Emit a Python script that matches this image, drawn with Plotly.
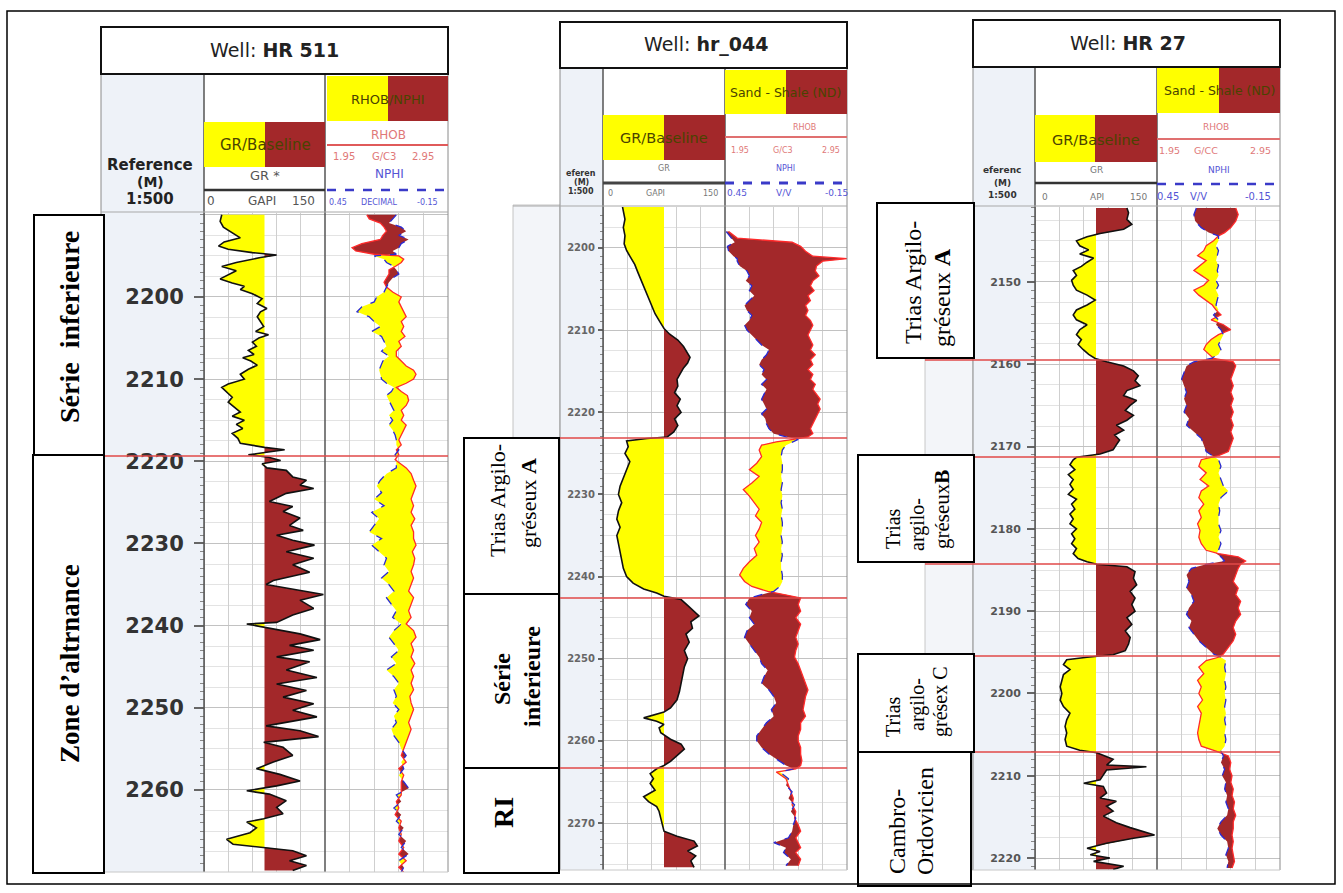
import plotly.graph_objects as go

# ---------------------------------------------------------------------------
# Log data (depth in m, GR in API, RHOB in g/cc, NPHI in v/v)
# ---------------------------------------------------------------------------
GR_BASELINE = 75.0
GR_SCALE = [0, 150]
RHOB_SCALE = [1.95, 2.95]
NPHI_SCALE = [0.45, -0.15]

# ---- Well HR 511 ----
HR511_GR_DEPTH = [
    2190.0, 2190.8, 2191.5, 2192.3, 2192.8, 2193.3, 2193.8, 2194.2, 2194.6, 2194.9,
    2195.2, 2195.8, 2196.3, 2196.8, 2197.3, 2197.8, 2198.3, 2198.7, 2199.1, 2199.6,
    2200.2, 2200.8, 2201.4, 2201.8, 2202.4, 2203.0, 2203.6, 2204.2, 2204.6, 2205.0,
    2205.5, 2206.0, 2206.5, 2207.0, 2207.4, 2207.8, 2208.3, 2208.8, 2209.4, 2210.0,
    2210.6, 2211.0, 2211.6, 2212.2, 2212.8, 2213.4, 2214.0, 2214.5, 2215.0, 2215.5,
    2216.0, 2216.6, 2217.2, 2217.8, 2218.3, 2218.6, 2218.9, 2219.2, 2219.5, 2219.9,
    2220.3, 2220.8, 2221.1, 2221.9, 2222.3, 2222.9, 2223.3, 2223.9, 2224.9, 2225.5,
    2226.1, 2226.9, 2227.8, 2228.4, 2229.0, 2229.6, 2230.2, 2231.0, 2231.8, 2232.6,
    2233.5, 2234.5, 2235.0, 2235.5, 2236.2, 2236.9, 2237.9, 2238.7, 2239.6, 2239.8,
    2240.4, 2241.0, 2241.7, 2242.4, 2243.0, 2243.8, 2244.4, 2245.4, 2246.3, 2247.1,
    2247.9, 2248.7, 2249.5, 2250.3, 2251.1, 2252.2, 2252.8, 2253.5, 2254.2, 2254.8,
    2255.8, 2256.6, 2257.4, 2258.1, 2258.9, 2259.5, 2260.1, 2260.5, 2261.3, 2262.1,
    2262.9, 2263.5, 2263.9, 2264.6, 2265.2, 2266.0, 2266.6, 2267.0, 2267.4, 2268.0,
    2268.6, 2269.2, 2269.8,
]
HR511_GR = [
    22, 20, 24, 38, 45, 25, 18, 30, 60, 90,
    70, 40, 22, 40, 30, 20, 35, 50, 45, 60,
    72, 66, 78, 70, 66, 70, 74, 64, 80, 68,
    60, 65, 55, 62, 48, 58, 66, 55, 45, 50,
    30, 22, 28, 35, 30, 38, 45, 35, 50, 40,
    48, 35, 42, 45, 75, 100, 78, 55, 80, 95,
    72, 78, 102, 110, 127, 119, 136, 102, 81, 110,
    98, 119, 106, 123, 90, 110, 137, 102, 136, 110,
    131, 86, 77, 106, 148, 119, 136, 110, 90, 53,
    86, 119, 144, 106, 136, 90, 131, 102, 140, 90,
    127, 98, 136, 110, 140, 77, 119, 142, 74, 98,
    110, 86, 65, 94, 119, 90, 53, 81, 102, 90,
    98, 74, 53, 65, 57, 28, 36, 77, 110, 127,
    106, 127, 110,
]
HR511_ND_DEPTH = [
    2190.0, 2190.5, 2191.0, 2191.5, 2192.0, 2192.5, 2193.0, 2193.5, 2194.0, 2194.4,
    2194.8, 2195.0, 2195.4, 2195.8, 2196.2, 2196.7, 2197.2, 2197.7, 2198.2, 2198.8,
    2199.4, 2200.0, 2200.6, 2201.2, 2201.8, 2202.4, 2203.0, 2203.6, 2204.2, 2204.8,
    2205.4, 2206.0, 2206.6, 2207.2, 2207.8, 2208.4, 2208.9, 2209.4, 2210.0, 2210.5,
    2211.0, 2211.5, 2212.0, 2212.6, 2213.2, 2213.8, 2214.4, 2215.0, 2215.6, 2216.2,
    2216.8, 2217.4, 2218.0, 2218.6, 2219.2, 2219.8, 2220.8, 2221.5, 2222.3, 2223.0,
    2223.8, 2224.6, 2225.4, 2226.2, 2227.0, 2227.8, 2228.6, 2229.4, 2230.2, 2231.0,
    2231.8, 2232.6, 2233.4, 2234.2, 2235.0, 2235.8, 2236.6, 2237.4, 2238.2, 2239.0,
    2239.8, 2240.6, 2241.4, 2242.2, 2243.0, 2243.8, 2244.6, 2245.4, 2246.2, 2247.0,
    2247.8, 2248.6, 2249.4, 2250.2, 2251.0, 2251.8, 2252.6, 2253.4, 2254.2, 2255.0,
    2255.8, 2256.6, 2257.4, 2258.2, 2259.0, 2259.8, 2260.6, 2261.4, 2262.2, 2263.0,
    2263.8, 2264.6, 2265.4, 2266.2, 2267.0, 2267.8, 2268.6, 2269.4, 2270.0,
]
HR511_RHOB = [
    2.29, 2.31, 2.40, 2.43, 2.45, 2.42, 2.40, 2.25, 2.17, 2.20,
    2.35, 2.55, 2.59, 2.57, 2.53, 2.47, 2.47, 2.45, 2.43, 2.45,
    2.50, 2.57, 2.55, 2.57, 2.59, 2.61, 2.57, 2.59, 2.57, 2.60,
    2.55, 2.57, 2.53, 2.53, 2.57, 2.61, 2.67, 2.69, 2.67, 2.61,
    2.53, 2.57, 2.62, 2.63, 2.61, 2.57, 2.59, 2.57, 2.61, 2.59,
    2.57, 2.55, 2.57, 2.53, 2.55, 2.52, 2.61, 2.65, 2.67, 2.69,
    2.67, 2.65, 2.67, 2.65, 2.68, 2.65, 2.67, 2.67, 2.69, 2.66,
    2.68, 2.67, 2.65, 2.67, 2.65, 2.63, 2.67, 2.65, 2.63, 2.65,
    2.61, 2.67, 2.69, 2.65, 2.67, 2.65, 2.68, 2.65, 2.67, 2.65,
    2.67, 2.64, 2.65, 2.67, 2.65, 2.63, 2.65, 2.63, 2.61, 2.59,
    2.57, 2.61, 2.55, 2.59, 2.57, 2.57, 2.57, 2.53, 2.55, 2.52,
    2.57, 2.55, 2.57, 2.55, 2.59, 2.55, 2.61, 2.55, 2.59,
]
HR511_NPHI = [
    0.102, 0.120, 0.138, 0.078, 0.054, 0.090, 0.042, 0.078, 0.090, 0.120,
    0.102, 0.210, 0.162, 0.150, 0.120, 0.102, 0.090, 0.120, 0.138, 0.150,
    0.162, 0.198, 0.210, 0.270, 0.294, 0.234, 0.210, 0.180, 0.222, 0.174,
    0.162, 0.150, 0.174, 0.138, 0.168, 0.180, 0.186, 0.180, 0.174, 0.150,
    0.114, 0.126, 0.150, 0.138, 0.126, 0.114, 0.138, 0.120, 0.138, 0.120,
    0.108, 0.102, 0.102, 0.090, 0.108, 0.102, 0.102, 0.150, 0.180, 0.198,
    0.174, 0.210, 0.162, 0.222, 0.186, 0.210, 0.234, 0.174, 0.222, 0.186,
    0.150, 0.162, 0.138, 0.174, 0.138, 0.114, 0.150, 0.126, 0.102, 0.120,
    0.078, 0.114, 0.138, 0.114, 0.090, 0.126, 0.102, 0.150, 0.114, 0.090,
    0.114, 0.102, 0.120, 0.090, 0.114, 0.102, 0.126, 0.114, 0.090, 0.078,
    0.054, 0.078, 0.066, 0.090, 0.066, 0.042, 0.102, 0.078, 0.114, 0.078,
    0.102, 0.066, 0.090, 0.054, 0.078, 0.042, 0.090, 0.066, 0.078,
]
HR511_TOPS = [2219.35]
HR511_DEPTH_LABELS = [2200, 2210, 2220, 2230, 2240, 2250, 2260]

# ---- Well hr_044 ----
HR044_GR_DEPTH = [
    2195.0, 2195.6, 2196.5, 2197.5, 2198.5, 2199.5, 2200.3, 2201.0, 2202.0, 2203.0,
    2204.0, 2205.0, 2206.0, 2207.0, 2208.0, 2209.0, 2209.8, 2210.5, 2211.2, 2212.0,
    2212.6, 2213.3, 2214.0, 2214.6, 2215.3, 2216.0, 2216.8, 2217.6, 2218.4, 2219.2,
    2220.0, 2220.8, 2221.6, 2222.4, 2223.0, 2223.2, 2223.5, 2224.2, 2225.0, 2226.0,
    2227.0, 2228.0, 2229.0, 2230.0, 2231.0, 2232.0, 2233.0, 2234.0, 2235.0, 2236.0,
    2237.0, 2238.0, 2239.0, 2240.0, 2240.8, 2241.5, 2242.0, 2242.4, 2242.8, 2243.5,
    2244.2, 2244.8, 2245.5, 2246.3, 2247.0, 2248.0, 2249.0, 2250.0, 2251.0, 2252.0,
    2253.0, 2254.0, 2255.0, 2256.0, 2256.5, 2257.0, 2257.2, 2257.6, 2258.0, 2258.4,
    2259.0, 2259.8, 2260.4, 2261.0, 2261.8, 2262.5, 2263.0, 2263.4, 2264.0, 2264.6,
    2265.2, 2266.0, 2266.8, 2267.4, 2268.0, 2268.6, 2269.4, 2270.2, 2271.0, 2271.6,
    2272.2, 2272.8, 2273.4, 2274.0, 2274.6, 2275.4,
]
HR044_GR = [
    24, 25, 27, 25, 27, 26, 29, 33, 39, 43,
    47, 51, 55, 59, 64, 70, 75, 82, 92, 99,
    103, 107, 104, 99, 95, 91, 92, 88, 95, 91,
    96, 88, 92, 87, 79, 54, 29, 31, 27, 33,
    29, 25, 21, 19, 23, 19, 17, 21, 17, 19,
    21, 23, 25, 29, 37, 50, 66, 75, 96, 104,
    112, 118, 108, 110, 102, 106, 100, 104, 100, 98,
    96, 94, 91, 83, 75, 58, 50, 66, 75, 69,
    71, 83, 96, 100, 91, 83, 75, 66, 58, 62,
    58, 64, 50, 56, 66, 69, 71, 73, 75, 91,
    112, 116, 104, 114, 108, 112,
]
HR044_ND_DEPTH = [
    2198.0, 2198.8, 2199.3, 2199.8, 2200.4, 2201.0, 2201.3, 2201.6, 2202.2, 2202.8,
    2203.4, 2204.0, 2204.6, 2205.2, 2205.8, 2206.4, 2207.0, 2207.6, 2208.2, 2208.8,
    2209.4, 2210.0, 2210.6, 2211.2, 2211.8, 2212.4, 2213.0, 2213.6, 2214.2, 2214.8,
    2215.4, 2216.0, 2216.6, 2217.2, 2217.8, 2218.4, 2219.0, 2219.6, 2220.2, 2220.8,
    2221.4, 2222.0, 2222.6, 2223.0, 2223.3, 2223.6, 2224.0, 2224.6, 2225.4, 2226.2,
    2227.0, 2227.8, 2228.6, 2229.4, 2230.2, 2231.0, 2231.8, 2232.6, 2233.4, 2234.2,
    2235.0, 2235.8, 2236.6, 2237.4, 2238.2, 2239.0, 2239.8, 2240.6, 2241.2, 2241.8,
    2242.2, 2242.6, 2243.4, 2244.2, 2245.0, 2245.8, 2246.6, 2247.4, 2248.2, 2249.0,
    2249.8, 2250.6, 2251.4, 2252.2, 2253.0, 2253.8, 2254.6, 2255.4, 2256.2, 2257.0,
    2257.8, 2258.6, 2259.4, 2260.0, 2260.8, 2261.6, 2262.4, 2263.0, 2263.4, 2263.8,
    2264.6, 2265.4, 2266.2, 2267.0, 2267.8, 2268.6, 2269.4, 2270.2, 2271.0, 2271.8,
    2272.4, 2273.0, 2273.6, 2274.4, 2275.2,
]
HR044_RHOB = [
    1.98, 2.05, 2.50, 2.57, 2.61, 2.67, 2.95, 2.75, 2.70, 2.69,
    2.72, 2.67, 2.65, 2.68, 2.63, 2.65, 2.61, 2.63, 2.61, 2.65,
    2.67, 2.65, 2.63, 2.65, 2.67, 2.65, 2.69, 2.65, 2.67, 2.63,
    2.67, 2.65, 2.69, 2.67, 2.70, 2.73, 2.71, 2.73, 2.71, 2.69,
    2.67, 2.65, 2.67, 2.63, 2.51, 2.37, 2.25, 2.23, 2.25, 2.21,
    2.15, 2.23, 2.17, 2.10, 2.15, 2.19, 2.23, 2.20, 2.25, 2.23,
    2.20, 2.23, 2.19, 2.21, 2.15, 2.10, 2.07, 2.11, 2.17, 2.30,
    2.45, 2.57, 2.55, 2.57, 2.53, 2.57, 2.55, 2.53, 2.55, 2.53,
    2.52, 2.55, 2.57, 2.59, 2.61, 2.63, 2.61, 2.60, 2.59, 2.61,
    2.57, 2.57, 2.55, 2.55, 2.57, 2.57, 2.58, 2.57, 2.53, 2.37,
    2.45, 2.47, 2.49, 2.51, 2.50, 2.53, 2.52, 2.55, 2.57, 2.53,
    2.55, 2.57, 2.53, 2.57, 2.55,
]
HR044_NPHI = [
    0.444, 0.420, 0.402, 0.438, 0.432, 0.408, 0.390, 0.390, 0.378, 0.342,
    0.330, 0.348, 0.318, 0.330, 0.306, 0.330, 0.354, 0.342, 0.318, 0.330,
    0.354, 0.342, 0.318, 0.294, 0.270, 0.234, 0.246, 0.270, 0.282, 0.258,
    0.270, 0.246, 0.270, 0.246, 0.258, 0.270, 0.258, 0.246, 0.270, 0.252,
    0.246, 0.234, 0.210, 0.150, 0.090, 0.114, 0.150, 0.168, 0.174, 0.168,
    0.168, 0.174, 0.168, 0.174, 0.168, 0.174, 0.168, 0.174, 0.168, 0.168,
    0.174, 0.168, 0.174, 0.168, 0.174, 0.174, 0.168, 0.168, 0.180, 0.210,
    0.270, 0.330, 0.348, 0.318, 0.330, 0.306, 0.342, 0.354, 0.330, 0.306,
    0.282, 0.270, 0.240, 0.258, 0.270, 0.234, 0.210, 0.198, 0.222, 0.210,
    0.246, 0.270, 0.294, 0.294, 0.270, 0.234, 0.186, 0.150, 0.114, 0.180,
    0.138, 0.150, 0.120, 0.138, 0.108, 0.126, 0.102, 0.114, 0.120, 0.138,
    0.210, 0.150, 0.162, 0.126, 0.150,
]
HR044_TOPS = [2223.13, 2242.61, 2263.31]
HR044_DEPTH_LABELS = [2200, 2210, 2220, 2230, 2240, 2250, 2260, 2270]

# ---- Well HR 27 ----
HR27_GR_DEPTH = [
    2141.0, 2141.6, 2142.4, 2143.0, 2143.6, 2144.1, 2144.5, 2145.0, 2145.6, 2146.1,
    2146.6, 2147.1, 2147.6, 2148.1, 2148.6, 2149.2, 2149.8, 2150.4, 2151.0, 2151.6,
    2152.2, 2152.8, 2153.4, 2154.0, 2154.6, 2155.2, 2155.8, 2156.4, 2157.0, 2157.6,
    2158.2, 2158.8, 2159.3, 2159.7, 2160.2, 2160.8, 2161.4, 2162.0, 2162.6, 2163.2,
    2163.8, 2164.4, 2165.0, 2165.6, 2166.2, 2166.8, 2167.4, 2168.0, 2168.6, 2169.2,
    2169.8, 2170.4, 2170.9, 2171.3, 2171.6, 2172.2, 2172.8, 2173.4, 2174.0, 2174.6,
    2175.2, 2175.8, 2176.4, 2177.0, 2177.6, 2178.2, 2178.8, 2179.4, 2180.0, 2180.6,
    2181.2, 2181.8, 2182.4, 2183.0, 2183.6, 2184.0, 2184.3, 2184.6, 2185.2, 2186.0,
    2186.8, 2187.6, 2188.4, 2189.2, 2190.0, 2190.8, 2191.6, 2192.4, 2193.2, 2194.0,
    2194.8, 2195.3, 2195.6, 2195.9, 2196.5, 2197.1, 2197.7, 2198.4, 2199.2, 2200.0,
    2200.8, 2201.6, 2202.4, 2203.2, 2204.0, 2204.8, 2205.6, 2206.4, 2206.9, 2207.2,
    2208.0, 2208.7, 2208.9, 2209.3, 2210.5, 2210.9, 2211.3, 2212.1, 2212.7, 2213.1,
    2213.7, 2214.3, 2214.9, 2215.7, 2216.3, 2217.2, 2217.6, 2218.2, 2218.8, 2219.2,
    2219.6, 2220.0, 2220.4, 2221.0, 2221.4,
]
HR27_GR = [
    113, 115, 113, 119, 109, 80, 64, 51, 55, 66,
    55, 72, 64, 57, 47, 51, 45, 47, 51, 64,
    74, 64, 51, 47, 51, 64, 55, 51, 57, 53,
    59, 66, 74, 88, 109, 121, 127, 123, 129, 113,
    109, 125, 117, 111, 121, 113, 100, 109, 98, 104,
    100, 96, 80, 51, 47, 43, 49, 41, 47, 43,
    47, 41, 51, 45, 49, 43, 47, 43, 51, 45,
    49, 45, 51, 47, 53, 64, 76, 113, 123, 121,
    125, 117, 123, 119, 123, 113, 119, 111, 117, 115,
    111, 96, 64, 39, 35, 43, 35, 33, 31, 33,
    31, 35, 43, 39, 37, 39, 37, 39, 55, 76,
    96, 88, 137, 88, 80, 60, 84, 88, 80, 100,
    88, 96, 84, 100, 117, 147, 121, 88, 64, 80,
    68, 92, 72, 109, 96,
]
HR27_ND_DEPTH = [
    2141.0, 2141.8, 2142.6, 2143.4, 2144.0, 2144.4, 2145.0, 2145.6, 2146.2, 2146.8,
    2147.4, 2148.0, 2148.6, 2149.2, 2149.8, 2150.4, 2151.0, 2151.6, 2152.2, 2152.8,
    2153.4, 2154.0, 2154.6, 2155.2, 2155.8, 2156.4, 2157.0, 2157.6, 2158.2, 2158.8,
    2159.3, 2159.7, 2160.2, 2161.0, 2161.8, 2162.6, 2163.4, 2164.2, 2165.0, 2165.8,
    2166.6, 2167.4, 2168.2, 2169.0, 2169.8, 2170.6, 2171.1, 2171.6, 2172.4, 2173.2,
    2174.0, 2174.8, 2175.4, 2176.2, 2177.0, 2177.8, 2178.6, 2179.4, 2180.2, 2181.0,
    2181.8, 2182.6, 2183.0, 2183.4, 2183.9, 2184.3, 2184.8, 2185.6, 2186.4, 2187.2,
    2188.0, 2188.8, 2189.6, 2190.4, 2191.2, 2192.0, 2192.8, 2193.6, 2194.4, 2195.2,
    2195.6, 2196.0, 2196.8, 2197.6, 2198.4, 2199.2, 2200.0, 2200.8, 2201.6, 2202.4,
    2203.2, 2204.0, 2204.8, 2205.6, 2206.4, 2207.0, 2207.6, 2208.4, 2209.2, 2210.0,
    2210.8, 2211.6, 2212.4, 2213.2, 2214.0, 2214.8, 2215.6, 2216.4, 2217.2, 2218.0,
    2218.8, 2219.6, 2220.4, 2221.2,
]
HR27_RHOB = [
    2.59, 2.61, 2.59, 2.55, 2.50, 2.45, 2.41, 2.35, 2.33, 2.28,
    2.35, 2.30, 2.25, 2.31, 2.37, 2.33, 2.25, 2.29, 2.35, 2.40,
    2.43, 2.47, 2.39, 2.49, 2.55, 2.45, 2.39, 2.35, 2.33, 2.37,
    2.41, 2.57, 2.59, 2.57, 2.55, 2.57, 2.55, 2.57, 2.55, 2.57,
    2.55, 2.57, 2.55, 2.57, 2.55, 2.53, 2.45, 2.31, 2.29, 2.35,
    2.30, 2.37, 2.31, 2.29, 2.33, 2.29, 2.31, 2.28, 2.30, 2.29,
    2.31, 2.35, 2.45, 2.61, 2.67, 2.63, 2.61, 2.59, 2.57, 2.61,
    2.59, 2.63, 2.61, 2.63, 2.59, 2.57, 2.59, 2.57, 2.53, 2.49,
    2.45, 2.35, 2.29, 2.33, 2.28, 2.31, 2.29, 2.32, 2.28, 2.31,
    2.30, 2.29, 2.28, 2.29, 2.31, 2.43, 2.53, 2.55, 2.54, 2.56,
    2.55, 2.57, 2.56, 2.58, 2.57, 2.59, 2.57, 2.57, 2.56, 2.57,
    2.56, 2.57, 2.58, 2.56,
]
HR27_NPHI = [
    0.258, 0.270, 0.264, 0.234, 0.198, 0.150, 0.150, 0.162, 0.150, 0.156,
    0.162, 0.150, 0.156, 0.150, 0.162, 0.150, 0.162, 0.150, 0.156, 0.162,
    0.150, 0.174, 0.150, 0.162, 0.138, 0.126, 0.138, 0.150, 0.138, 0.150,
    0.186, 0.270, 0.306, 0.318, 0.330, 0.318, 0.306, 0.318, 0.306, 0.318,
    0.294, 0.306, 0.270, 0.234, 0.222, 0.210, 0.180, 0.150, 0.138, 0.150,
    0.138, 0.126, 0.102, 0.138, 0.150, 0.144, 0.150, 0.150, 0.138, 0.150,
    0.138, 0.150, 0.162, 0.138, 0.120, 0.210, 0.282, 0.306, 0.294, 0.306,
    0.282, 0.270, 0.294, 0.306, 0.282, 0.294, 0.270, 0.246, 0.210, 0.174,
    0.138, 0.114, 0.120, 0.114, 0.120, 0.114, 0.120, 0.114, 0.120, 0.114,
    0.120, 0.114, 0.120, 0.114, 0.120, 0.138, 0.126, 0.138, 0.120, 0.132,
    0.114, 0.120, 0.108, 0.114, 0.102, 0.108, 0.138, 0.156, 0.138, 0.108,
    0.102, 0.114, 0.102, 0.108,
]
HR27_TOPS = [2159.48, 2171.27, 2184.27, 2195.45, 2207.12]
HR27_DEPTH_LABELS = [2150, 2160, 2170, 2180, 2190, 2200, 2210, 2220]

# ---------------------------------------------------------------------------
# Page geometry helpers (pixel -> paper)
# ---------------------------------------------------------------------------
W, H = 1343, 893
YELLOW = "#ffff00"
BROWN = "#a3282a"
HEAD_TXT = "#4a4300"
RED_TXT = "#e07878"
BLUE_TXT = "#5555d5"


def px(x):
    return x / W


def py(y):
    return 1 - y / H


def aref(letter, n):
    return letter if n == 1 else f"{letter}{n}"


def akey(letter, n):
    return f"{letter}axis" if n == 1 else f"{letter}axis{n}"


fig = go.Figure()
layout_axes = {}
shapes = []
annotations = []


def add_rect(x0, y0, x1, y1, fill="rgba(0,0,0,0)", line=None, width=1.0, layer="above"):
    shapes.append(dict(type="rect", xref="paper", yref="paper",
                       x0=px(x0), x1=px(x1), y0=py(y1), y1=py(y0),
                       fillcolor=fill, layer=layer,
                       line=dict(color=line if line else "rgba(0,0,0,0)",
                                 width=width if line else 0)))


def add_line(x0, y0, x1, y1, color, width=1.0, dash="solid", layer="above"):
    shapes.append(dict(type="line", xref="paper", yref="paper",
                       x0=px(x0), x1=px(x1), y0=py(y0), y1=py(y1),
                       line=dict(color=color, width=width, dash=dash), layer=layer))


def add_text(x, y, s, size, color="#222", family="DejaVu Sans", angle=0,
             xanchor="center", yanchor="middle"):
    annotations.append(dict(xref="paper", yref="paper", x=px(x), y=py(y), text=s,
                            showarrow=False, textangle=angle,
                            xanchor=xanchor, yanchor=yanchor, borderpad=0,
                            font=dict(family=family, size=size, color=color)))


def with_crossings(depth, a, b):
    """Insert the depths where curves a and b cross so that fills close cleanly."""
    d_out, a_out, b_out = [depth[0]], [a[0]], [b[0]]
    for i in range(1, len(depth)):
        s0 = a[i - 1] - b[i - 1]
        s1 = a[i] - b[i]
        if s0 * s1 < 0:
            t = s0 / (s0 - s1)
            dc = depth[i - 1] + t * (depth[i] - depth[i - 1])
            xc = a[i - 1] + t * (a[i] - a[i - 1])
            d_out.append(dc)
            a_out.append(xc)
            b_out.append(xc)
        d_out.append(depth[i])
        a_out.append(a[i])
        b_out.append(b[i])
    return d_out, a_out, b_out


def add_band(depth, left, right, color, xa, ya):
    """Shade the interval where `left` lies to the left of `right`."""
    d, l, r = with_crossings(depth, left, right)
    upper = [max(p, q) for p, q in zip(l, r)]
    fig.add_trace(go.Scatter(x=l, y=d, xaxis=xa, yaxis=ya, mode="lines",
                             line=dict(width=0), hoverinfo="skip", showlegend=False))
    fig.add_trace(go.Scatter(x=upper, y=d, xaxis=xa, yaxis=ya, mode="lines",
                             line=dict(width=0), fill="tonextx", fillcolor=color,
                             hoverinfo="skip", showlegend=False))


def nphi_on_rhob_scale(nphi):
    span_n = NPHI_SCALE[0] - NPHI_SCALE[1]
    span_r = RHOB_SCALE[1] - RHOB_SCALE[0]
    return [RHOB_SCALE[0] + (NPHI_SCALE[0] - v) / span_n * span_r for v in nphi]


# ---------------------------------------------------------------------------
# Track layout of each well panel (pixels)
# ---------------------------------------------------------------------------
WELLS = [
    dict(name="HR 511", gr_depth=HR511_GR_DEPTH, gr=HR511_GR,
         nd_depth=HR511_ND_DEPTH, rhob=HR511_RHOB, nphi=HR511_NPHI,
         tops=HR511_TOPS, labels=HR511_DEPTH_LABELS, sand_when_rhob_left=False,
         x_depth=101, x_gr=204, x_nd=325, x_end=448, y_head=74, y_top=213, y_bot=872,
         depth_top=2189.78, depth_bot=2269.98, top_line_x0=104,
         tick_size=21, tick_color="#333", ticklen=10, minorlen=4, standoff=6),
    dict(name="hr_044", gr_depth=HR044_GR_DEPTH, gr=HR044_GR,
         nd_depth=HR044_ND_DEPTH, rhob=HR044_RHOB, nphi=HR044_NPHI,
         tops=HR044_TOPS, labels=HR044_DEPTH_LABELS, sand_when_rhob_left=True,
         x_depth=560, x_gr=603, x_nd=725, x_end=847, y_head=68, y_top=207, y_bot=870,
         depth_top=2195.01, depth_bot=2275.72, top_line_x0=513,
         tick_size=10, tick_color="#666", ticklen=5, minorlen=3, standoff=1),
    dict(name="HR 27", gr_depth=HR27_GR_DEPTH, gr=HR27_GR,
         nd_depth=HR27_ND_DEPTH, rhob=HR27_RHOB, nphi=HR27_NPHI,
         tops=HR27_TOPS, labels=HR27_DEPTH_LABELS, sand_when_rhob_left=True,
         x_depth=973, x_gr=1035, x_nd=1157, x_end=1280, y_head=67, y_top=207, y_bot=870,
         depth_top=2140.89, depth_bot=2221.45, top_line_x0=925,
         tick_size=11, tick_color="#555", ticklen=8, minorlen=4, standoff=4),
]

GRID_V = "#cfcfcf"
GRID_MAJOR = "#c2c2c2"
GRID_MINOR = "#e3e3e3"

# Background panels drawn under everything
add_rect(101, 74, 204, 872, fill="#eef2f8", layer="below")
add_rect(513, 205, 560, 870, fill="#f3f5f9", line="#c4c4c4", width=1, layer="below")
add_rect(560, 68, 603, 870, fill="#eef2f8", layer="below")
add_rect(925, 358, 973, 870, fill="#f3f5f9", line="#c8c8c8", width=1, layer="below")
add_rect(973, 67, 1035, 870, fill="#eef2f8", layer="below")

for i, w in enumerate(WELLS):
    xg, xn, xp = 3 * i + 1, 3 * i + 2, 3 * i + 3
    yg, yn, yr = 3 * i + 1, 3 * i + 2, 3 * i + 3
    ydom = [py(w["y_bot"]), py(w["y_top"])]
    yrange = [w["depth_bot"], w["depth_top"]]

    layout_axes[akey("x", xg)] = dict(
        domain=[px(w["x_gr"]), px(w["x_nd"])], range=GR_SCALE, anchor=aref("y", yg),
        showgrid=True, gridcolor=GRID_V, gridwidth=1, dtick=30, tick0=0,
        showticklabels=False, ticks="", zeroline=False, showline=False)
    layout_axes[akey("x", xn)] = dict(
        domain=[px(w["x_nd"]), px(w["x_end"])], range=RHOB_SCALE, anchor=aref("y", yn),
        showgrid=True, gridcolor=GRID_V, gridwidth=1, dtick=0.2, tick0=1.95,
        showticklabels=False, ticks="", zeroline=False, showline=False)
    layout_axes[akey("x", xp)] = dict(
        overlaying=aref("x", xn), range=NPHI_SCALE, anchor=aref("y", yn), visible=False)

    grid_y = dict(domain=ydom, range=yrange, autorange=False, showgrid=True,
                  gridcolor=GRID_MAJOR, gridwidth=1, dtick=10, tick0=0,
                  showticklabels=False, ticks="", zeroline=False, showline=False,
                  minor=dict(dtick=2.5, tick0=0, showgrid=True, gridcolor=GRID_MINOR,
                             gridwidth=1, ticks=""))
    layout_axes[akey("y", yg)] = dict(grid_y, anchor=aref("x", xg))
    layout_axes[akey("y", yn)] = dict(grid_y, anchor=aref("x", xn))
    layout_axes[akey("y", yr)] = dict(
        overlaying=aref("y", yg), anchor="free", position=px(w["x_gr"]), side="left",
        range=yrange, autorange=False, showgrid=False, zeroline=False,
        showline=True, linecolor="#9a9a9a", linewidth=1,
        tickmode="array", tickvals=w["labels"], ticks="outside",
        ticklen=w["ticklen"], tickcolor="#666", tickwidth=1.5,
        ticklabelstandoff=w["standoff"],
        tickfont=dict(family="DejaVu Sans", size=w["tick_size"], color=w["tick_color"],
                      weight="bold"),
        minor=dict(tickmode="linear", tick0=0, dtick=1, ticks="outside",
                   ticklen=w["minorlen"], tickcolor="#888", tickwidth=1, showgrid=False))

    # --- GR track: sand (yellow) left of the baseline, shale (brown) right of it
    base = [GR_BASELINE] * len(w["gr"])
    add_band(w["gr_depth"], w["gr"], base, YELLOW, aref("x", xg), aref("y", yg))
    add_band(w["gr_depth"], base, w["gr"], BROWN, aref("x", xg), aref("y", yg))
    fig.add_trace(go.Scatter(x=w["gr"], y=w["gr_depth"], xaxis=aref("x", xg),
                             yaxis=aref("y", yr), mode="lines",
                             line=dict(color="#111", width=1.6),
                             hoverinfo="skip", showlegend=False))

    # --- Density / neutron crossover track
    n_eq = nphi_on_rhob_scale(w["nphi"])
    if w["sand_when_rhob_left"]:
        add_band(w["nd_depth"], w["rhob"], n_eq, YELLOW, aref("x", xn), aref("y", yn))
        add_band(w["nd_depth"], n_eq, w["rhob"], BROWN, aref("x", xn), aref("y", yn))
    else:
        add_band(w["nd_depth"], n_eq, w["rhob"], YELLOW, aref("x", xn), aref("y", yn))
        add_band(w["nd_depth"], w["rhob"], n_eq, BROWN, aref("x", xn), aref("y", yn))
    fig.add_trace(go.Scatter(x=w["nphi"], y=w["nd_depth"], xaxis=aref("x", xp),
                             yaxis=aref("y", yn), mode="lines",
                             line=dict(color="#2a2ad2", width=1.3, dash="dash"),
                             hoverinfo="skip", showlegend=False))
    fig.add_trace(go.Scatter(x=w["rhob"], y=w["nd_depth"], xaxis=aref("x", xn),
                             yaxis=aref("y", yn), mode="lines",
                             line=dict(color="#ff2a2a", width=1.3),
                             hoverinfo="skip", showlegend=False))

    # track borders
    for xb, col, wd in ((w["x_depth"], "#8a8a8a", 1), (w["x_gr"], "#555", 1.5),
                        (w["x_nd"], "#555", 1.5), (w["x_end"], "#8a8a8a", 1)):
        add_line(xb, w["y_bot"], xb, w["y_head"], col, wd)
    add_line(w["x_depth"] if i == 0 else w["top_line_x0"], w["y_top"] - 1,
             w["x_end"], w["y_top"] - 1, "#a8a8a8", 1)
    add_line(w["x_depth"], w["y_bot"], w["x_end"], w["y_bot"], "#c8c8c8", 1)

    # formation tops
    for top in w["tops"]:
        shapes.append(dict(type="line", xref="paper", yref=aref("y", yg),
                           x0=px(w["top_line_x0"]), x1=px(w["x_end"]), y0=top, y1=top,
                           line=dict(color="#e04848", width=1.6), layer="above"))

# ---------------------------------------------------------------------------
# Headers
# ---------------------------------------------------------------------------
# HR 511
add_rect(101, 27, 448, 74, fill="white", line="#111", width=2)
add_text(274, 50, "Well: <b>HR 511</b>", 19, "#222")
add_text(150, 165, "<b>Reference</b>", 15, "#222")
add_text(150, 182, "<b>(M)</b>", 14, "#222")
add_text(150, 199, "<b>1:500</b>", 15, "#222")
add_rect(204, 122, 265, 167, fill=YELLOW)
add_rect(265, 122, 325, 167, fill=BROWN)
add_text(265, 145, "GR/Baseline", 15, HEAD_TXT)
add_text(265, 176, "GR *", 13, "#555")
add_line(204, 190, 325, 190, "#333", 2.5)
add_text(211, 201, "0", 12, "#555")
add_text(262, 201, "GAPI", 12, "#555")
add_text(303, 201, "150", 12, "#555")
add_rect(327, 76, 388, 121, fill=YELLOW)
add_rect(388, 76, 448, 121, fill=BROWN)
add_text(388, 99, "RHOB/NPHI", 13, HEAD_TXT)
add_text(388, 135, "RHOB", 12, RED_TXT)
add_line(327, 145, 448, 145, "#e05a5a", 2)
add_text(344, 156, "1.95", 10, RED_TXT)
add_text(384, 156, "G/C3", 10, RED_TXT)
add_text(423, 156, "2.95", 10, RED_TXT)
add_text(389, 174, "NPHI", 12, BLUE_TXT)
add_line(327, 190, 448, 190, "#3a3ac8", 2.5, dash="dash")
add_text(338, 202, "0.45", 8, BLUE_TXT)
add_text(380, 202, "DECIMAL", 8, BLUE_TXT)
add_text(427, 202, "-0.15", 8, BLUE_TXT)

# hr_044
add_rect(560, 22, 847, 68, fill="white", line="#111", width=2)
add_text(706, 44, "Well: <b>hr_044</b>", 19, "#222")
add_text(581, 173, "<b>eferen</b>", 8, "#333")
add_text(581, 183, "<b>(M)</b>", 8, "#333")
add_text(581, 192, "<b>1:500</b>", 8, "#333")
add_rect(603, 115, 664, 160, fill=YELLOW)
add_rect(664, 115, 725, 160, fill=BROWN)
add_text(664, 138, "GR/Baseline", 14.5, HEAD_TXT)
add_rect(725, 70, 786, 114, fill=YELLOW)
add_rect(786, 70, 847, 114, fill=BROWN)
add_text(786, 92, "Sand - Shale (ND)", 12.5, HEAD_TXT)
add_text(664, 168, "GR", 8, "#777")
add_line(603, 183, 725, 183, "#444", 3)
add_text(610, 193, "0", 8, "#777")
add_text(655, 193, "GAPI", 8, "#777")
add_text(710, 193, "150", 8, "#777")
add_text(804, 127, "RHOB", 8, RED_TXT)
add_line(725, 137, 847, 137, "#e07070", 2)
add_text(740, 150, "1.95", 8, RED_TXT)
add_text(783, 150, "G/C3", 8, RED_TXT)
add_text(831, 150, "2.95", 8, RED_TXT)
add_text(786, 168, "NPHI", 8, BLUE_TXT)
add_line(725, 183, 847, 183, "#3a3ac8", 3, dash="dash")
add_text(737, 193, "0.45", 9, BLUE_TXT)
add_text(784, 193, "V/V", 9, BLUE_TXT)
add_text(836, 193, "-0.15", 9, BLUE_TXT)

# HR 27
add_rect(973, 20, 1280, 67, fill="white", line="#111", width=2)
add_text(1128, 43, "Well: <b>HR 27</b>", 19, "#222")
add_text(1002, 170, "<b>eferenc</b>", 9, "#333")
add_text(1002, 183, "<b>(M)</b>", 9, "#333")
add_text(1002, 195, "<b>1:500</b>", 9, "#333")
add_rect(1035, 115, 1095, 162, fill=YELLOW)
add_rect(1095, 115, 1157, 162, fill=BROWN)
add_text(1096, 140, "GR/Baseline", 14.5, HEAD_TXT)
add_rect(1157, 68, 1219, 113, fill=YELLOW)
add_rect(1219, 68, 1280, 113, fill=BROWN)
add_text(1219, 91, "Sand - Shale (ND)", 12.5, HEAD_TXT)
add_text(1096, 170, "GR", 9, "#777")
add_line(1035, 183, 1157, 183, "#333", 2.5)
add_text(1045, 197, "0", 9, "#777")
add_text(1097, 197, "API", 9, "#777")
add_text(1138, 197, "150", 9, "#777")
add_text(1216, 127, "RHOB", 9, RED_TXT)
add_line(1157, 139, 1280, 139, "#e07070", 2)
add_text(1169, 150, "1.95", 9.5, RED_TXT)
add_text(1206, 150, "G/CC", 9.5, RED_TXT)
add_text(1260, 150, "2.95", 9.5, RED_TXT)
add_text(1219, 170, "NPHI", 9, BLUE_TXT)
add_line(1157, 184, 1280, 184, "#3a3ac8", 2.5, dash="dash")
add_text(1168, 197, "0.45", 10, BLUE_TXT)
add_text(1198, 197, "V/V", 10, BLUE_TXT)
add_text(1258, 197, "-0.15", 10, BLUE_TXT)

# ---------------------------------------------------------------------------
# Zone labels
# ---------------------------------------------------------------------------
SERIF = "Liberation Serif"
add_rect(34, 215, 104, 455, fill="white", line="#000", width=2)
add_text(70, 327, "<b>Série\u00a0 inferieure</b>", 28, "#000", SERIF, -90)
add_rect(33, 455, 104, 873, fill="white", line="#000", width=2)
add_text(70, 664, "<b>Zone d’altrnance</b>", 27, "#000", SERIF, -90)

add_rect(464, 438, 559, 594, fill="white", line="#000", width=2)
add_text(497, 501, "Trias Argilo-", 22, "#000", SERIF, -90)
add_text(528, 503, "gréseux <b>A</b>", 22, "#000", SERIF, -90)
add_rect(464, 594, 559, 768, fill="white", line="#000", width=2)
add_text(502, 679, "<b>Série</b>", 24, "#000", SERIF, -90)
add_text(532, 677, "<b>inferieure</b>", 24, "#000", SERIF, -90)
add_rect(464, 768, 559, 873, fill="white", line="#000", width=2)
add_text(503, 813, "<b>RI</b>", 28, "#000", SERIF, -90)

add_rect(877, 203, 974, 358, fill="white", line="#000", width=2)
add_text(913, 283, "Trias Argilo-", 24, "#000", SERIF, -90)
add_text(942, 298, "gréseux <b>A</b>", 24, "#000", SERIF, -90)
add_rect(858, 455, 974, 562, fill="white", line="#000", width=2)
add_text(893, 529, "Trias", 20, "#000", SERIF, -90)
add_text(917, 525, "argilo-", 20, "#000", SERIF, -90)
add_text(942, 510, "gréseux<b>B</b>", 21, "#000", SERIF, -90)
add_rect(858, 654, 974, 752, fill="white", line="#000", width=2)
add_text(893, 717, "Trias", 20, "#000", SERIF, -90)
add_text(917, 705, "argilo-", 20, "#000", SERIF, -90)
add_text(940, 702, "grésex C", 20, "#000", SERIF, -90)
add_rect(858, 752, 971, 886, fill="white", line="#000", width=2)
add_text(897, 831, "Cambro-", 24, "#000", SERIF, -90)
add_text(925, 821, "Ordovicien", 24, "#000", SERIF, -90)

# outer frame
add_rect(7, 11, 1335, 884, line="#000", width=1.5)

fig.update_layout(
    width=W, height=H, margin=dict(l=0, r=0, t=0, b=0),
    paper_bgcolor="white", plot_bgcolor="rgba(0,0,0,0)",
    showlegend=False, hovermode=False,
    shapes=shapes, annotations=annotations, **layout_axes,
)

fig.write_html("out.html")
